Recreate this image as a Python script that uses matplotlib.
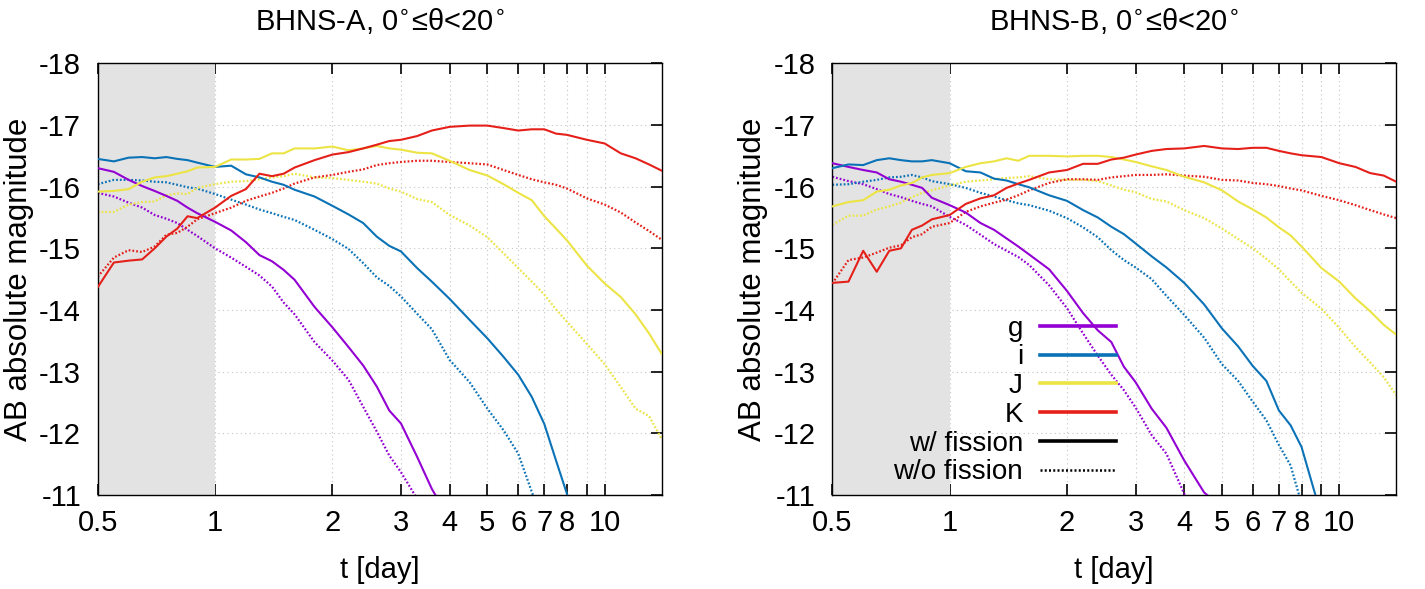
import numpy as np
import matplotlib
matplotlib.use("Agg")
import matplotlib.pyplot as plt
from matplotlib.lines import Line2D
from matplotlib.ticker import FixedLocator, FixedFormatter, NullLocator

plt.rcParams['font.family'] = ['Liberation Sans', 'DejaVu Sans']
plt.rcParams['axes.unicode_minus'] = False

# sample times [day], shared by every light curve
t = [0.5, 0.55, 0.6, 0.65, 0.7, 0.75, 0.8, 0.85, 0.9, 1.0,
     1.1, 1.2, 1.3, 1.4, 1.5, 1.6, 1.8, 2.0, 2.2, 2.4,
     2.6, 2.8, 3.0, 3.3, 3.6, 4.0, 4.5, 5.0, 5.5, 6.0,
     6.5, 7.0, 7.5, 8.0, 9.0, 10, 11, 12, 13, 14]

# BHNS-A  (curves that fall below -11 are cut short)
A_g_w = [-16.30, -16.24, -16.11, -16.01, -15.93, -15.85, -15.77, -15.66, -15.57, -15.43,
         -15.29, -15.10, -14.89, -14.79, -14.65, -14.49, -14.05, -13.72, -13.40, -13.10,
         -12.76, -12.37, -12.16, -11.62, -11.10, -10.60]
A_g_wo = [-15.90, -15.84, -15.74, -15.66, -15.54, -15.48, -15.41, -15.30, -15.20, -15.00,
          -14.85, -14.70, -14.56, -14.38, -14.12, -13.93, -13.48, -13.18, -12.87, -12.43,
          -12.03, -11.64, -11.37, -10.94]
A_i_w = [-16.45, -16.41, -16.47, -16.48, -16.46, -16.48, -16.45, -16.43, -16.39, -16.32,
         -16.34, -16.20, -16.15, -16.08, -16.03, -15.95, -15.84, -15.69, -15.55, -15.41,
         -15.19, -15.04, -14.95, -14.68, -14.46, -14.18, -13.84, -13.54, -13.24, -12.95,
         -12.59, -12.15, -11.56, -11.02, -10.00]
A_i_wo = [-16.04, -16.11, -16.11, -16.10, -16.08, -16.07, -16.03, -15.99, -15.97, -15.88,
          -15.79, -15.71, -15.63, -15.57, -15.51, -15.46, -15.30, -15.15, -14.99, -14.76,
          -14.53, -14.39, -14.22, -13.94, -13.69, -13.19, -12.83, -12.40, -12.05, -11.67,
          -11.05, -10.50]
A_J_w = [-15.92, -15.93, -15.96, -16.08, -16.15, -16.17, -16.21, -16.25, -16.31, -16.32,
         -16.44, -16.44, -16.45, -16.54, -16.54, -16.62, -16.62, -16.65, -16.59, -16.62,
         -16.66, -16.62, -16.60, -16.55, -16.54, -16.42, -16.27, -16.18, -16.04, -15.90,
         -15.78, -15.52, -15.32, -15.13, -14.72, -14.43, -14.21, -13.93, -13.62, -13.29]
A_J_wo = [-15.59, -15.59, -15.71, -15.75, -15.76, -15.86, -15.89, -15.88, -15.98, -16.04,
          -16.08, -16.09, -16.12, -16.15, -16.17, -16.21, -16.15, -16.14, -16.11, -16.08,
          -16.05, -15.97, -15.92, -15.80, -15.75, -15.54, -15.37, -15.18, -14.92, -14.68,
          -14.46, -14.25, -14.01, -13.81, -13.45, -13.12, -12.75, -12.40, -12.28, -11.91]
A_K_w = [-14.37, -14.77, -14.80, -14.82, -15.00, -15.19, -15.32, -15.52, -15.49, -15.66,
         -15.85, -15.96, -16.21, -16.17, -16.21, -16.31, -16.43, -16.52, -16.56, -16.62,
         -16.68, -16.74, -16.76, -16.82, -16.91, -16.97, -16.99, -16.99, -16.95, -16.91,
         -16.93, -16.93, -16.86, -16.84, -16.76, -16.70, -16.54, -16.46, -16.36, -16.26]
A_K_wo = [-14.54, -14.85, -14.97, -14.94, -15.03, -15.22, -15.25, -15.35, -15.47, -15.57,
          -15.66, -15.77, -15.84, -15.90, -15.97, -16.05, -16.15, -16.19, -16.24, -16.28,
          -16.35, -16.38, -16.40, -16.42, -16.42, -16.40, -16.38, -16.36, -16.27, -16.19,
          -16.12, -16.07, -16.03, -15.97, -15.81, -15.71, -15.58, -15.42, -15.28, -15.14]

# BHNS-B
B_g_w = [-16.38, -16.32, -16.27, -16.23, -16.12, -16.08, -16.03, -15.98, -15.82, -15.70,
         -15.58, -15.41, -15.30, -15.16, -15.03, -14.90, -14.66, -14.31, -13.95, -13.67,
         -13.48, -13.08, -12.83, -12.40, -12.09, -11.56, -11.04, -10.80]
B_g_wo = [-16.16, -16.09, -16.04, -15.96, -15.88, -15.83, -15.77, -15.72, -15.68, -15.51,
          -15.38, -15.22, -15.07, -14.96, -14.86, -14.73, -14.40, -14.03, -13.62, -13.26,
          -12.95, -12.70, -12.42, -11.97, -11.67, -11.02, -10.50]
B_i_w = [-16.30, -16.36, -16.35, -16.43, -16.46, -16.43, -16.41, -16.41, -16.43, -16.38,
         -16.25, -16.23, -16.13, -16.10, -16.04, -15.99, -15.86, -15.77, -15.62, -15.50,
         -15.35, -15.23, -15.08, -14.87, -14.69, -14.44, -14.09, -13.70, -13.41, -13.09,
         -12.85, -12.37, -12.13, -11.78, -10.66]
B_i_wo = [-16.03, -16.04, -16.08, -16.11, -16.15, -16.16, -16.19, -16.15, -16.09, -16.04,
          -15.98, -15.90, -15.84, -15.78, -15.73, -15.70, -15.61, -15.49, -15.34, -15.18,
          -14.97, -14.81, -14.69, -14.50, -14.23, -13.92, -13.55, -13.12, -12.85, -12.51,
          -12.21, -11.81, -11.48, -10.86]
B_J_w = [-15.68, -15.75, -15.78, -15.92, -15.95, -16.02, -16.06, -16.15, -16.19, -16.22,
         -16.32, -16.38, -16.41, -16.46, -16.42, -16.50, -16.50, -16.49, -16.50, -16.50,
         -16.48, -16.44, -16.40, -16.33, -16.27, -16.16, -16.07, -15.94, -15.76, -15.63,
         -15.50, -15.34, -15.21, -15.03, -14.68, -14.46, -14.19, -13.98, -13.76, -13.60]
B_J_wo = [-15.38, -15.53, -15.53, -15.63, -15.68, -15.74, -15.83, -15.90, -15.94, -16.02,
          -16.08, -16.10, -16.12, -16.14, -16.15, -16.17, -16.12, -16.11, -16.11, -16.09,
          -16.02, -15.95, -15.91, -15.80, -15.76, -15.62, -15.49, -15.32, -15.15, -15.00,
          -14.83, -14.66, -14.46, -14.28, -14.02, -13.71, -13.40, -13.15, -12.91, -12.62]
B_K_w = [-14.44, -14.46, -14.96, -14.62, -14.96, -15.00, -15.30, -15.37, -15.47, -15.54,
         -15.72, -15.81, -15.86, -15.98, -16.05, -16.11, -16.23, -16.27, -16.37, -16.37,
         -16.44, -16.47, -16.52, -16.58, -16.61, -16.62, -16.66, -16.62, -16.61, -16.63,
         -16.63, -16.58, -16.54, -16.51, -16.48, -16.38, -16.32, -16.22, -16.18, -16.08]
B_K_wo = [-14.43, -14.81, -14.85, -14.93, -15.01, -15.05, -15.18, -15.23, -15.35, -15.41,
          -15.59, -15.68, -15.74, -15.79, -15.86, -15.94, -16.06, -16.12, -16.12, -16.11,
          -16.15, -16.17, -16.19, -16.19, -16.20, -16.18, -16.16, -16.11, -16.10, -16.06,
          -16.04, -16.01, -15.97, -15.94, -15.85, -15.78, -15.70, -15.62, -15.55, -15.49]

bands = ['g', 'i', 'J', 'K']
colors = {'g': '#9400d3', 'i': '#0a72b6', 'J': '#ece444', 'K': '#e5201a'}
xticks = [0.5, 1, 2, 3, 4, 5, 6, 7, 8, 9, 10]
xticklabels = ['0.5', '1', '2', '3', '4', '5', '6', '7', '8', '', '10']

panels = [
    ('BHNS-A, 0$^{\\circ}$≤θ<20$^{\\circ}$',
     {'g': (A_g_w, A_g_wo), 'i': (A_i_w, A_i_wo), 'J': (A_J_w, A_J_wo), 'K': (A_K_w, A_K_wo)}),
    ('BHNS-B, 0$^{\\circ}$≤θ<20$^{\\circ}$',
     {'g': (B_g_w, B_g_wo), 'i': (B_i_w, B_i_wo), 'J': (B_J_w, B_J_wo), 'K': (B_K_w, B_K_wo)}),
]

DOT = (0, (0.8, 0.9))


def draw_panel(ax, title, curves):
    ax.axvspan(0.5, 1.0, color='#e3e3e3', lw=0, zorder=1)
    for b in bands:
        w, wo = curves[b]
        ax.plot(t[:len(wo)], wo, color=colors[b], lw=1.6, ls=DOT, zorder=2)
        ax.plot(t[:len(w)], w, color=colors[b], lw=1.5, zorder=3)

    ax.set_xscale('log')
    ax.set_xlim(0.5, 14)
    ax.set_ylim(-11, -18)
    ax.xaxis.set_major_locator(FixedLocator(xticks))
    ax.xaxis.set_major_formatter(FixedFormatter(xticklabels))
    ax.xaxis.set_minor_locator(NullLocator())
    ax.set_yticks(np.arange(-18, -10))
    ax.set_axisbelow(True)
    ax.grid(True, color='#c4c4c4', lw=0.8, ls=(0, (1, 3)))
    ax.tick_params(which='both', direction='in', top=True, right=True, left=False,
                   length=8, width=1.2, labelsize=21)
    ax.tick_params(axis='x', pad=10)
    ax.tick_params(axis='y', pad=12)
    for s in ax.spines.values():
        s.set_linewidth(1.0)
    ax.set_title(title, fontsize=21, pad=24)
    ax.set_xlabel('t [day]', fontsize=21, labelpad=14)
    ax.set_ylabel('AB absolute magnitude', fontsize=22.5, labelpad=4)


def main():
    fig = plt.figure(figsize=(14.25, 5.89), dpi=100)
    ax1 = fig.add_axes([0.0686, 0.1596, 0.3957, 0.7329])
    ax2 = fig.add_axes([0.5841, 0.1596, 0.3957, 0.7329])
    for ax, (title, curves) in zip([ax1, ax2], panels):
        draw_panel(ax, title, curves)

    # key of the right panel: text on the left, line on the right
    handles = [Line2D([], [], color=colors[b], lw=2.6) for b in bands]
    handles.append(Line2D([], [], color='black', lw=2.6))
    handles.append(Line2D([], [], color='black', lw=1.8, ls=DOT))
    labels = bands + ['w/ fission', 'w/o fission']
    leg = ax2.legend(handles, labels, loc='lower right', bbox_to_anchor=(0.503, 0.022),
                     frameon=False, markerfirst=False, fontsize=20, handlelength=2.75,
                     handletextpad=0.6, labelspacing=0.1, borderpad=0, borderaxespad=0)
    for txt in leg.get_texts():
        txt.set_ha('right')

    fig.savefig('out.png', dpi=100)


if __name__ == "__main__":
    main()
